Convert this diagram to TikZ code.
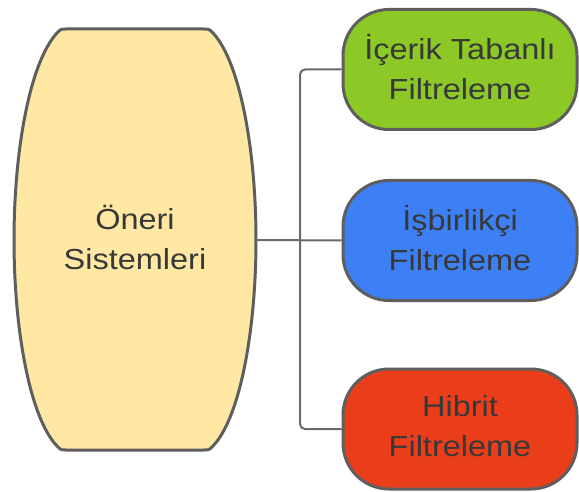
\documentclass[tikz,border=0pt]{standalone}
\usepackage{fontspec}
\setmainfont[FakeStretch=1.12]{Liberation Sans}
\definecolor{edge}{HTML}{5E5E5E}
\definecolor{wire}{HTML}{6A6A6A}
\definecolor{ink}{HTML}{383838}
\definecolor{sand}{HTML}{FEE8A4}
\definecolor{leaf}{HTML}{8CC926}
\definecolor{sky}{HTML}{3D80F6}
\definecolor{ember}{HTML}{EA3E1B}
\begin{document}
\begin{tikzpicture}[x=1pt,y=-1pt,
  label text/.style={text=ink,font=\fontsize{29}{40}\selectfont,align=center,text depth=6pt},
  pill/.style={label text,draw=edge,line width=3pt,rounded corners=46pt,
    minimum width=234pt,minimum height=120pt,inner sep=0pt},
  conn/.style={draw=wire,line width=2pt,rounded corners=5pt}]
\useasboundingbox (0,0) rectangle (579,492);

% barrel-shaped root block: flat top and bottom, bulging sides
\fill[sand,draw=edge,line width=3pt,line join=round]
  (66,29) -- (204,29)
  .. controls (209,29) .. (213,33)
  .. controls (240,62) and (256,150) .. (256,240)
  .. controls (256,330) and (240,418) .. (213,446)
  .. controls (209,450) .. (204,450)
  -- (66,450)
  .. controls (61,450) .. (57,446)
  .. controls (30,418) and (14,330) .. (14,240)
  .. controls (14,150) and (30,62) .. (57,33)
  .. controls (61,29) .. cycle;
\node (root) [label text,minimum width=242pt,minimum height=421pt,inner sep=0pt]
  at (135,240) {Öneri\\Sistemleri};

% three method blocks
\node (content) [pill,fill=leaf]  at (460,69.5) {İçerik Tabanlı\\Filtreleme};
\node (collab)  [pill,fill=sky]   at (460,240.5) {İşbirlikçi\\Filtreleme};
\node (hybrid)  [pill,fill=ember] at (460,429)   {Hibrit\\Filtreleme};

% connectors: a trunk to the middle block, branches up and down
\coordinate (bus) at (300,240);
\draw[conn] (root.east) -- (collab.west);
\draw[conn] (bus) |- (content.west);
\draw[conn] (bus) |- (hybrid.west);
\end{tikzpicture}
\end{document}
